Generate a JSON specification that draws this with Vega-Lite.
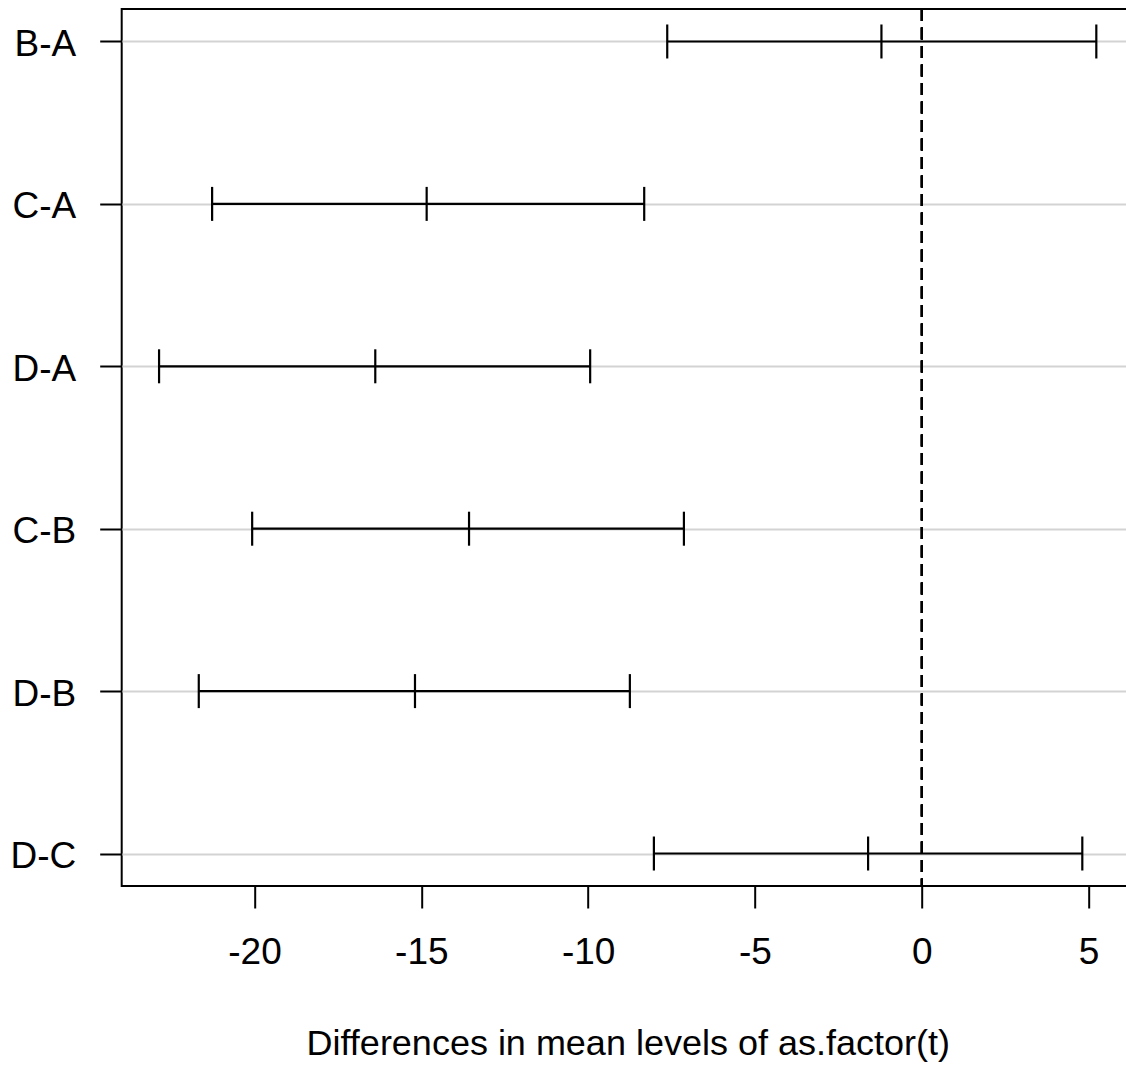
{
  "$schema": "https://vega.github.io/schema/vega-lite/v6.json",
  "autosize": "none",
  "padding": {"left": 121.7, "top": 9, "right": 0, "bottom": 182},
  "width": 1012,
  "height": 877,
  "background": "white",
  "config": {
    "view": {"stroke": "black", "strokeWidth": 2},
    "font": "Liberation Sans"
  },
  "data": {
    "values": [
      {"comparison": "B-A", "lwr": -7.63, "diff": -1.21, "upr": 5.23},
      {"comparison": "C-A", "lwr": -21.27, "diff": -14.84, "upr": -8.32},
      {"comparison": "D-A", "lwr": -22.86, "diff": -16.38, "upr": -9.94},
      {"comparison": "C-B", "lwr": -20.07, "diff": -13.57, "upr": -7.13},
      {"comparison": "D-B", "lwr": -21.67, "diff": -15.19, "upr": -8.75},
      {"comparison": "D-C", "lwr": -8.03, "diff": -1.61, "upr": 4.81}
    ]
  },
  "encoding": {
    "y": {
      "field": "comparison",
      "type": "nominal",
      "scale": {"type": "point", "domain": ["B-A", "C-A", "D-A", "C-B", "D-B", "D-C"], "padding": 0.2},
      "axis": {
        "title": null,
        "domain": false,
        "grid": true,
        "gridColor": "#d3d3d3",
        "gridWidth": 2,
        "tickSize": 22,
        "tickWidth": 2,
        "tickColor": "black",
        "labelFont": "Liberation Sans",
        "labelFontSize": 37,
        "labelColor": "black",
        "labelPadding": 24,
        "labelOffset": 3
      }
    }
  },
  "layer": [
    {
      "mark": {"type": "rule", "color": "black", "strokeWidth": 2, "strokeDash": [12, 6.5]},
      "encoding": {"x": {"datum": 0, "type": "quantitative"}, "y": null}
    },
    {
      "mark": {"type": "rule", "color": "black", "strokeWidth": 2.2},
      "encoding": {
        "x": {
          "field": "lwr",
          "type": "quantitative",
          "scale": {"domain": [-23.98, 6.35], "nice": false, "zero": false},
          "axis": {
            "title": "Differences in mean levels of as.factor(t)",
            "values": [-20, -15, -10, -5, 0, 5],
            "labelExpr": "'' + datum.value",
            "grid": false,
            "domain": false,
            "tickSize": 22,
            "tickWidth": 2,
            "tickColor": "black",
            "labelFont": "Liberation Sans",
            "labelFontSize": 37,
            "labelColor": "black",
            "labelPadding": 27,
            "labelFlush": false,
            "labelOverlap": false,
            "titleFont": "Liberation Sans",
            "titleFontSize": 36,
            "titleFontWeight": "normal",
            "titleColor": "black",
            "titlePadding": 56
          }
        },
        "x2": {"field": "upr"}
      }
    },
    {
      "mark": {"type": "tick", "orient": "vertical", "color": "black", "opacity": 1, "size": 34, "thickness": 2.2},
      "encoding": {"x": {"field": "lwr", "type": "quantitative"}}
    },
    {
      "mark": {"type": "tick", "orient": "vertical", "color": "black", "opacity": 1, "size": 34, "thickness": 2.2},
      "encoding": {"x": {"field": "diff", "type": "quantitative"}}
    },
    {
      "mark": {"type": "tick", "orient": "vertical", "color": "black", "opacity": 1, "size": 34, "thickness": 2.2},
      "encoding": {"x": {"field": "upr", "type": "quantitative"}}
    }
  ]
}
